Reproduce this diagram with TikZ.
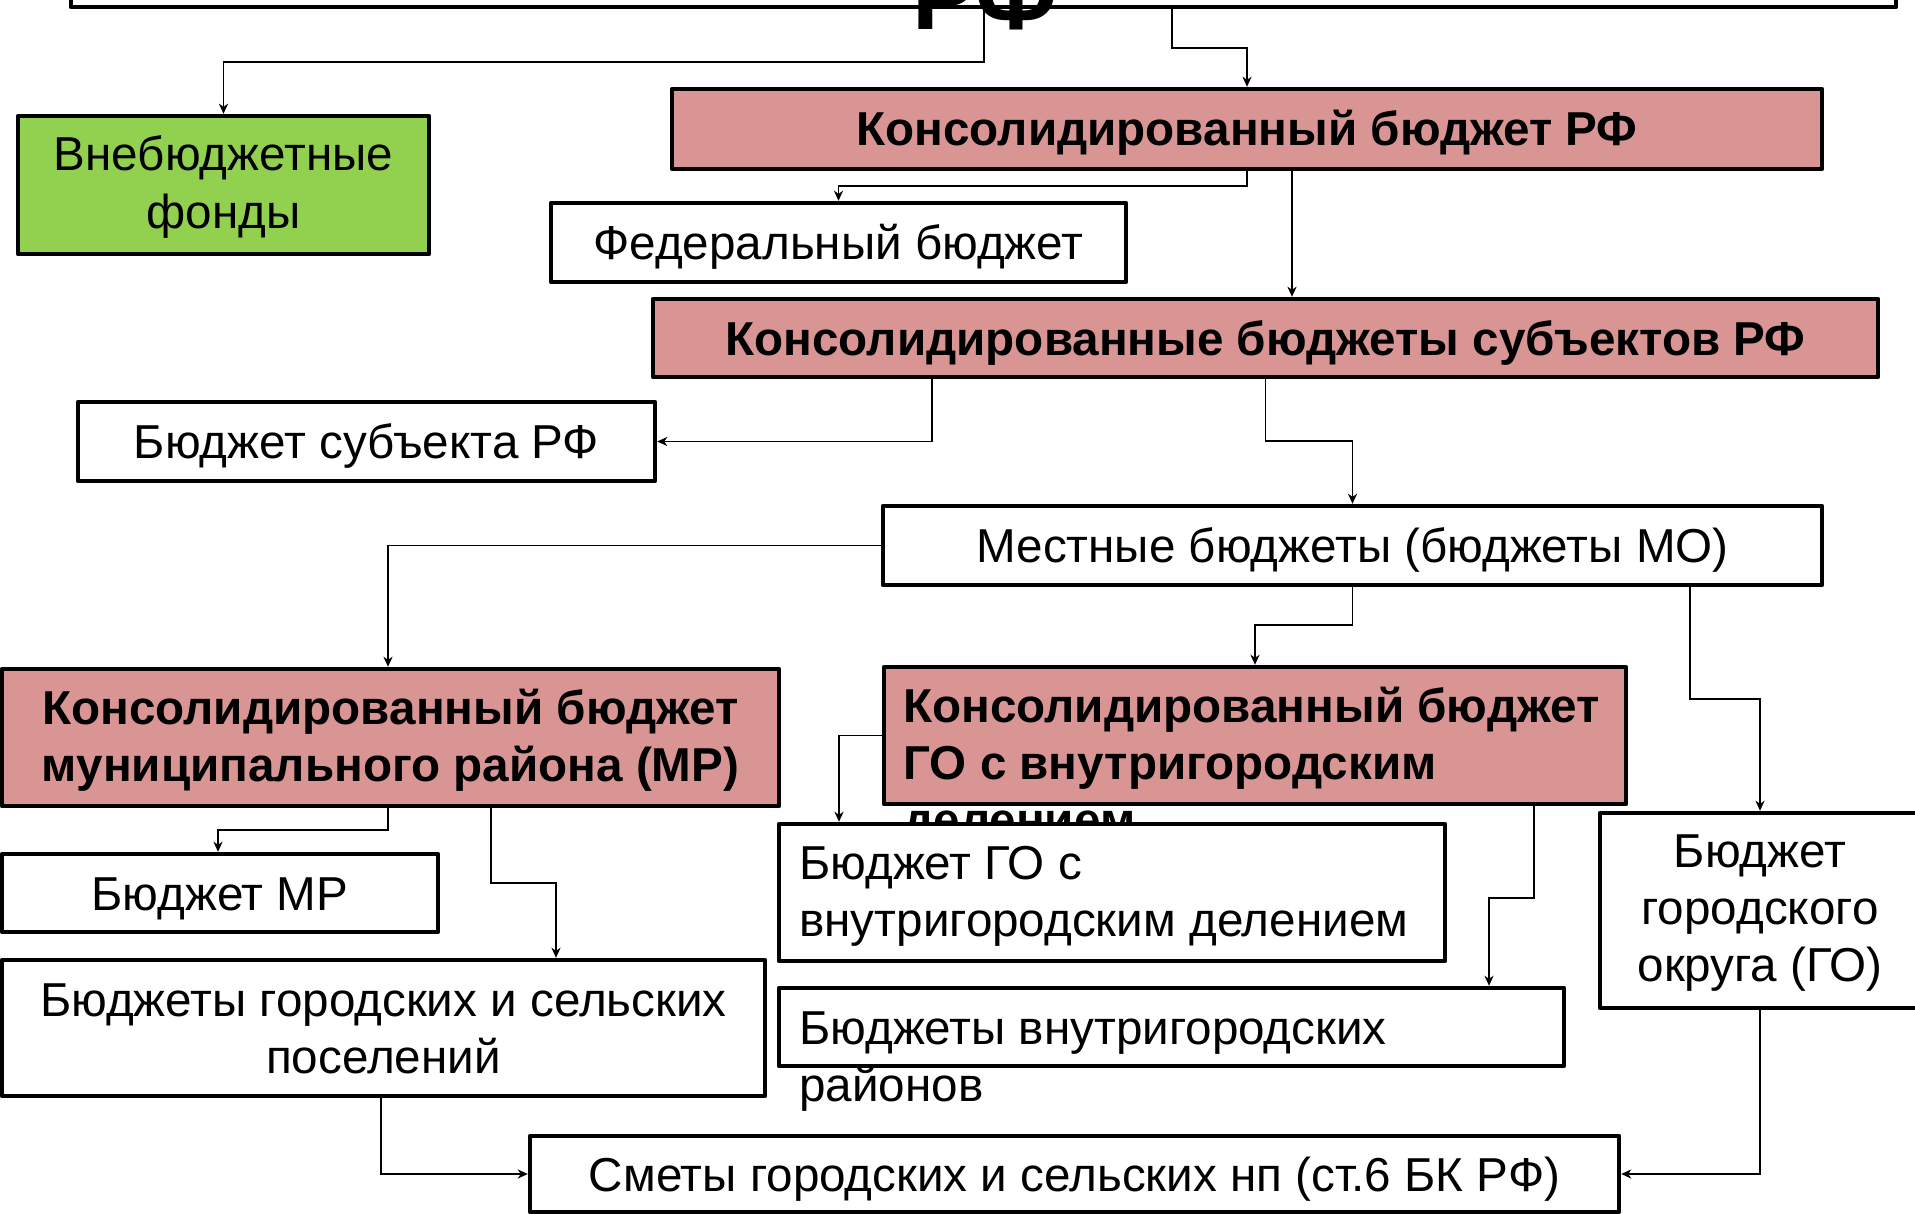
\documentclass[tikz,border=0pt]{standalone}
\usepackage{fontspec}
\setmainfont{Liberation Sans}
\usetikzlibrary{fit,arrows.meta}
\definecolor{pinkbox}{HTML}{D99594}
\definecolor{greenbox}{HTML}{92D050}
\begin{document}
\begin{tikzpicture}[x=0.5pt,y=-0.5pt,
 box/.style={draw=black, line width=2.2pt, inner sep=0pt, fill=white, line join=round},
 pbox/.style={box, fill=pinkbox},
 gbox/.style={box, fill=greenbox},
 txt/.style={inner sep=0pt, font=\fontsize{23.8}{28.5}\selectfont},
 btxt/.style={inner sep=0pt, font=\fontsize{23.8}{28.5}\selectfont\bfseries},
 conn/.style={draw=black, line width=0.9pt, -{Stealth[length=5pt,width=4.5pt,inset=1.5pt]}}
]
\useasboundingbox (0,0) rectangle (1915,1214);
% boxes and texts (multi-line texts are placed by the baseline of their last line)
\node[box, fit={(71,-100)(1896,7)}] (top) {};
\node[inner sep=0pt, font=\fontsize{48}{56}\selectfont\bfseries, anchor=base] (toptxt) at (985,30) {РФ};

\node[gbox, fit={(18,116)(429,254)}] (green) {};
\node[txt, align=center, anchor=base] (greentxt) at (223.5,228) {Внебюджетные\\фонды};

\node[pbox, fit={(672,89)(1822,169)}] (pink1) {};
\node[btxt, anchor=base] (pink1txt) at (1247,146) {Консолидированный бюджет РФ};

\node[box, fit={(551,203)(1126,282)}] (fed) {};
\node[txt, anchor=base] (fedtxt) at (838.5,259) {Федеральный бюджет};

\node[pbox, fit={(653,299)(1878,377)}] (pink2) {};
\node[btxt, anchor=base] (pink2txt) at (1265.5,355) {Консолидированные бюджеты субъектов РФ};

\node[box, fit={(78,402)(655,481)}] (subj) {};
\node[txt, anchor=base] (subjtxt) at (366.5,458) {Бюджет субъекта РФ};

\node[box, fit={(883,506)(1822,585)}] (local) {};
\node[txt, anchor=base] (localtxt) at (1352.5,562) {Местные бюджеты (бюджеты МО)};

\node[pbox, fit={(2,669)(779,806)}] (pink3) {};
\node[btxt, align=center, anchor=base] (pink3txt) at (390.5,781) {Консолидированный бюджет\\муниципального района (МР)};

\node[pbox, fit={(884,667)(1626,804)}] (pink4) {};
\node[btxt, align=left, anchor=base west] (pink4txt) at (903,836) {Консолидированный бюджет\\ГО с внутригородским\\делением};

\node[box, fit={(779,824)(1445,961)}] (goin) {};
\node[txt, align=left, anchor=base west] (gointxt) at (799,936) {Бюджет ГО с\\внутригородским делением};

\node[box, fit={(779,988)(1564,1066)}] (rayon) {};
\node[txt, align=left, anchor=base west] (rayontxt) at (799,1101) {Бюджеты внутригородских\\районов};

\node[box, fit={(1600,813)(1920,1008)}] (gorod) {};
\node[txt, align=center, anchor=base] (gorodtxt) at (1760,981) {Бюджет\\городского\\округа (ГО)};

\node[box, fit={(2,854)(438,932)}] (mr) {};
\node[txt, anchor=base] (mrtxt) at (220,910) {Бюджет МР};

\node[box, fit={(2,960)(765,1096)}] (pos) {};
\node[txt, align=center, anchor=base] (postxt) at (383.5,1073) {Бюджеты городских и сельских\\поселений};

\node[box, fit={(530,1136)(1619,1212)}] (smety) {};
\node[txt, anchor=base] (smetytxt) at (1074.5,1191) {Сметы городских и сельских нп (ст.6 БК РФ)};

% connectors
\draw[conn] (984,0 |- top.south) |- (223.5,62) -- (green.north);
\draw[conn] (1172,0 |- top.south) |- (1247,48) -- (pink1.north);
\draw[conn] (pink1.south) |- (838.5,186) -- (fed.north);
\draw[conn] (1292,0 |- pink1.south) -- (1292,0 |- pink2.north);
\draw[conn] (932,0 |- pink2.south) |- (subj.east);
\draw[conn] (pink2.south) |- (1352.5,441) -- (local.north);
\draw[conn] (local.west) -| (388,0 |- pink3.north);
\draw[conn] (local.south) |- (1255,625) -- (pink4.north);
\draw[conn] (1690,0 |- local.south) |- (1760,699) -- (gorod.north);
\draw[conn] (pink4.west) -| (839,0 |- goin.north);
\draw[conn] (1534,0 |- pink4.south) |- (1489,898) -- (1489,0 |- rayon.north);
\draw[conn] (388,0 |- pink3.south) |- (218,830) -- (218,0 |- mr.north);
\draw[conn] (491,0 |- pink3.south) |- (556,883) -- (556,0 |- pos.north);
\draw[conn] (381,0 |- pos.south) |- (smety.west);
\draw[conn] (gorod.south) |- (smety.east);
\end{tikzpicture}
\end{document}
